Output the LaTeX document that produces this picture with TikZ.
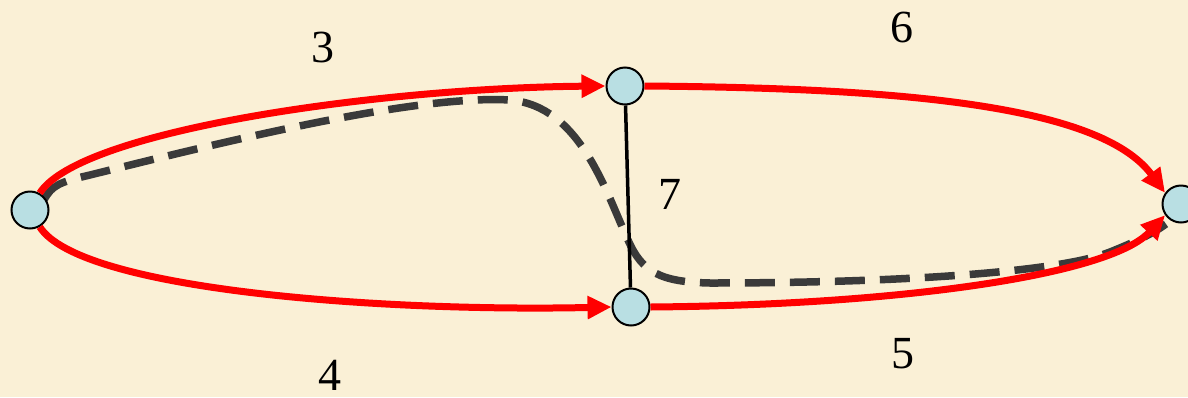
\documentclass[tikz,border=0pt]{standalone}
\usepackage{fontspec}
\setmainfont{Liberation Serif}
\usetikzlibrary{arrows.meta}
\definecolor{bg}{HTML}{FAF0D6}
\definecolor{nodefill}{HTML}{B9DFE3}
\definecolor{dashgray}{HTML}{3A3A3A}
\tikzset{
  vert/.style={circle, draw=black, line width=2pt, fill=nodefill, minimum size=37pt, inner sep=0pt},
  redarc/.style={draw=red, line width=7pt, -{Triangle[length=24pt,width=22pt]}},
  dashpath/.style={draw=dashgray, line width=7.5pt, dash pattern=on 30pt off 15pt},
  lbl/.style={font=\fontsize{46}{48}\selectfont, inner sep=0pt}
}
\begin{document}
\begin{tikzpicture}[x=1pt,y=-1pt]
\fill[bg] (0,0) rectangle (1188,397);
\useasboundingbox (0,0) rectangle (1188,397);
\coordinate (dstart) at (44,200);
\coordinate (dend) at (1166,224);
% dashed path
\draw[dashpath] (dstart) .. controls (52,185) and (60,182) .. (90,175)
  .. controls (250,135) and (420,95) .. (510,100)
  .. controls (580,106) and (605,190) .. (628,240)
  .. controls (642,272) and (660,282) .. (710,283)
  .. controls (900,283) and (1060,272) .. (1110,252)
  .. controls (1140,240) and (1155,232) .. (dend);
% nodes
\node[vert] (L) at (30,210) {};
\node[vert] (T) at (625,86) {};
\node[vert] (B) at (631,307) {};
\node[vert] (R) at (1181,204) {};
% edges
\draw[redarc] (L.60) .. controls (80,130) and (380,88) .. (T.west);
\draw[redarc] (T.east) .. controls (900,88) and (1100,105) .. (R.145);
\draw[redarc] (L.-60) .. controls (80,290) and (380,312) .. (B.west);
\draw[redarc] (B.east) .. controls (900,305) and (1110,275) .. (R.215);
\draw[black, line width=3.5pt] (T) -- (B);
% labels
\node[lbl] (l3) at (323,47) {3};
\node[lbl] (l6) at (902,27) {6};
\node[lbl] (l7) at (670,194) {7};
\node[lbl] (l4) at (330,375) {4};
\node[lbl] (l5) at (903,354) {5};
\end{tikzpicture}
\end{document}
